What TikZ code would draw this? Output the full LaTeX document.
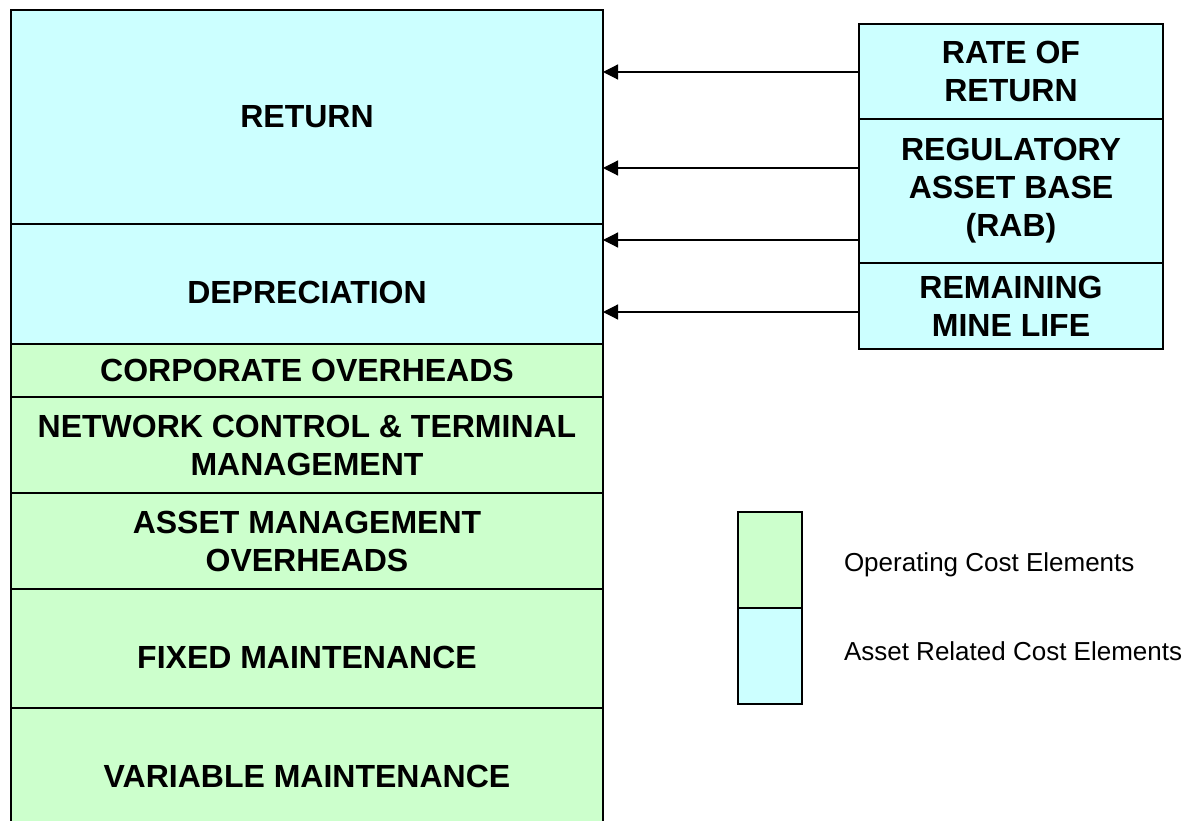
\documentclass[tikz,border=0pt]{standalone}
\usepackage{fontspec}
\setmainfont{Liberation Sans}
\usetikzlibrary{positioning,arrows.meta}
\definecolor{assetblue}{HTML}{CCFFFF}
\definecolor{opgreen}{HTML}{CCFFCC}
\begin{document}
\begin{tikzpicture}[x=1pt, y=-1pt,
        every node/.style={draw, rectangle, line width=1.2pt, outer sep=0pt, inner sep=0pt, align=center},
        bigfont/.style={font=\fontsize{32}{38}\selectfont\bfseries},
        cost/.style={bigfont, minimum width=592pt},
        sunk/.style={text height=40pt},
        driver/.style={bigfont, minimum width=304pt},
        asset/.style={fill=assetblue},
        oper/.style={fill=opgreen},
        feed/.style={line width=1.2pt, -{Triangle[length=15pt,width=15pt]}},
        key/.style={draw=none, anchor=west, font=\fontsize{26}{30}\selectfont}
		]
		\useasboundingbox (0,0) rectangle (1199,821);
		% cost stack, top to bottom
		\node[cost, asset, minimum height=214pt] (ret) at (307,117) {RETURN};
		\node[cost, asset, sunk, minimum height=120pt, below=0pt of ret] (dep) {DEPRECIATION};
		\node[cost, oper, minimum height=53pt, below=0pt of dep] (corp) {CORPORATE OVERHEADS};
		\node[cost, oper, minimum height=96pt, below=0pt of corp] (net) {NETWORK CONTROL \& TERMINAL\\MANAGEMENT};
		\node[cost, oper, minimum height=96pt, below=0pt of net] (amo) {ASSET MANAGEMENT\\OVERHEADS};
		\node[cost, oper, sunk, minimum height=119pt, below=0pt of amo] (fix) {FIXED MAINTENANCE};
		\node[cost, oper, minimum height=136pt, below=0pt of fix] (var) {VARIABLE MAINTENANCE};
		% drivers
		\node[driver, asset, minimum height=95pt] (ror) at (1011,71.5) {RATE OF\\RETURN};
		\node[driver, asset, minimum height=144pt, below=0pt of ror] (rab) {REGULATORY\\ASSET BASE\\(RAB)};
		\node[driver, asset, minimum height=86pt, below=0pt of rab] (rml) {REMAINING\\MINE LIFE};
		\coordinate (f1) at ([yshift=-0.5pt]ror.west);
		\coordinate (f2) at ([yshift=23pt]rab.west);
		\coordinate (f3) at ([yshift=-49pt]rab.west);
		\coordinate (f4) at ([yshift=-6pt]rml.west);
		\draw[feed] (f1) -- (f1 -| ret.east);
		\draw[feed] (f2) -- (f2 -| ret.east);
		\draw[feed] (f3) -- (f3 -| dep.east);
		\draw[feed] (f4) -- (f4 -| dep.east);
		% key
		\node[oper, minimum width=64pt, minimum height=96pt] (kop) at (770,560) {};
		\node[asset, minimum width=64pt, minimum height=96pt, below=0pt of kop] (kas) {};
		\node[key, right=42pt of kop, yshift=-5pt] (kopt) {Operating Cost Elements};
		\node[key, right=42pt of kas, yshift=5pt] (kast) {Asset Related Cost Elements};
	\end{tikzpicture}
\end{document}
